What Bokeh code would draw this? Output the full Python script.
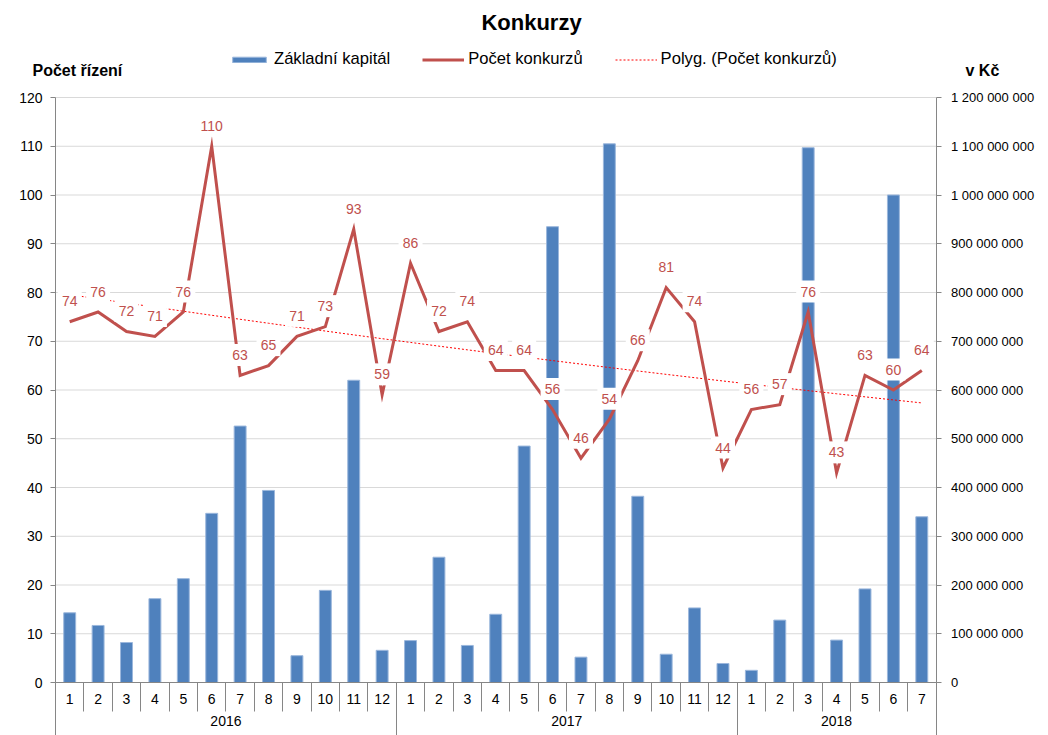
import numpy as np
from bokeh.plotting import figure
from bokeh.models import (Range1d, LinearAxis, FixedTicker,
                          ColumnDataSource, Label, Legend, LegendItem,
                          CustomJSTickFormatter)
from bokeh.core.properties import value
from bokeh.embed import file_html
from bokeh.resources import INLINE

# ---- data ----
years = ["2016"] * 12 + ["2017"] * 12 + ["2018"] * 7
months = [str(m) for m in range(1, 13)] * 2 + [str(m) for m in range(1, 8)]
pocet_konkurzu = [74, 76, 72, 71, 76, 110, 63, 65, 71, 73, 93, 59,
                  86, 72, 74, 64, 64, 56, 46, 54, 66, 81, 74, 44,
                  56, 57, 76, 43, 63, 60, 64]
zakladni_kapital = [143e6, 117e6, 82e6, 172e6, 213e6, 347e6, 526e6, 394e6, 55e6, 189e6, 620e6, 66e6,
                    86e6, 257e6, 76e6, 140e6, 485e6, 935e6, 52e6, 1105e6, 382e6, 58e6, 153e6, 39e6,
                    25e6, 128e6, 1097e6, 87e6, 192e6, 1000e6, 340e6]
left_ticks = list(range(0, 130, 10))
right_ticks = [v * 1e8 for v in range(0, 13)]

n = len(pocet_konkurzu)
centers = [i + 0.5 for i in range(n)]
bounds_m = list(range(n + 1))
year_names = sorted(set(years))
year_start = [years.index(y) for y in year_names]
year_end = [n - years[::-1].index(y) for y in year_names]
year_centers = [(a + b) / 2 for a, b in zip(year_start, year_end)]
year_bounds = sorted(set(year_start + year_end))

# polynomial (order 2) trend of the counts
idx = np.arange(1, n + 1)
trend = np.polyval(np.polyfit(idx, pocet_konkurzu, 2), idx)

FONT = "Liberation Sans"
BLUE = "#4f81bd"
RED = "#c0504d"
AX = "#868686"

# ---- pixel layout (canvas = frame) ----
W, H = 1048, 735
PX0, PX1 = 55, 935.5      # plot area left/right
PY_TOP, PY_BOT = 97, 682  # y pixel for 120 and for 0
ux = (PX1 - PX0) / n
uy = (PY_BOT - PY_TOP) / 120.0
x_start = -PX0 / ux
x_end = n + (W - PX1) / ux
y_start = -(H - PY_BOT) / uy
y_end = 120 + PY_TOP / uy
LABEL_UP = 20.5 / uy  # data labels sit ~20 px above their point

lbl_txt = [str(v) for v in pocet_konkurzu]
src = ColumnDataSource(dict(x=centers, pocet=pocet_konkurzu, kap=zakladni_kapital,
                            trend=trend, lbl=lbl_txt,
                            ly=[v + LABEL_UP for v in pocet_konkurzu],
                            lw=[8 * len(t) + 8 for t in lbl_txt]))

p = figure(width=W, height=H, x_range=Range1d(x_start, x_end), y_range=Range1d(y_start, y_end),
           output_backend="svg", toolbar_location=None,
           min_border=0, min_border_left=0, min_border_right=0, min_border_top=0, min_border_bottom=0,
           x_axis_type=None, y_axis_type=None)
p.outline_line_color = None
p.background_fill_color = "white"
p.xgrid.visible = False
p.ygrid.visible = False
p.extra_y_ranges = {"kc": Range1d(y_start * 1e7, y_end * 1e7)}

# gridlines
p.segment(x0=0, x1=n, y0=left_ticks[1:], y1=left_ticks[1:], line_color="#d9d9d9", line_width=1)


def style_axis(ax, size="14px"):
    ax.major_label_text_font = FONT
    ax.major_label_text_font_size = size
    ax.major_label_text_color = "#000000"
    ax.major_tick_in = 0
    ax.minor_tick_in = 0


# left axis
la = LinearAxis(fixed_location=0, bounds=(0, 120), ticker=FixedTicker(ticks=left_ticks))
style_axis(la)
la.axis_line_color = AX
la.major_tick_line_color = AX
la.major_tick_out = 5
la.minor_tick_line_color = None
la.major_label_standoff = 8
p.add_layout(la, "left")

# right axis
ra = LinearAxis(y_range_name="kc", fixed_location=n, bounds=(0, 1.2e9),
                ticker=FixedTicker(ticks=right_ticks),
                formatter=CustomJSTickFormatter(code=r"return Math.round(tick).toString().replace(/\B(?=(\d{3})+(?!\d))/g, ' ');"))
style_axis(ra, "13px")
ra.axis_line_color = AX
ra.major_tick_line_color = AX
ra.major_tick_out = 5
ra.minor_tick_line_color = None
ra.major_label_standoff = 10
p.add_layout(ra, "right")

# month separators (ticks only)
ms = LinearAxis(fixed_location=0, bounds=(0, n), ticker=FixedTicker(ticks=[], minor_ticks=bounds_m))
style_axis(ms)
ms.axis_line_color = AX
ms.major_tick_line_color = None
ms.major_tick_out = 0
ms.minor_tick_line_color = AX
ms.minor_tick_out = 29
p.add_layout(ms, "below")

# year separators (ticks only)
ys = LinearAxis(fixed_location=0, bounds=(0, n), ticker=FixedTicker(ticks=[], minor_ticks=year_bounds))
style_axis(ys)
ys.axis_line_color = None
ys.major_tick_line_color = None
ys.major_tick_out = 0
ys.minor_tick_line_color = AX
ys.minor_tick_out = 53
p.add_layout(ys, "below")

# month labels
ma = LinearAxis(fixed_location=0, bounds=(0, n), ticker=FixedTicker(ticks=centers),
                formatter=CustomJSTickFormatter(args=dict(labels=months),
                                                code="return labels[Math.floor(tick)];"))
style_axis(ma)
ma.axis_line_color = None
ma.major_tick_line_color = None
ma.minor_tick_line_color = None
ma.major_tick_out = 0
ma.minor_tick_out = 0
ma.major_label_standoff = 11
p.add_layout(ma, "below")

# year labels
ya = LinearAxis(fixed_location=0, bounds=(0, n), ticker=FixedTicker(ticks=year_centers),
                formatter=CustomJSTickFormatter(args=dict(labels=year_names, pos=year_centers),
                                                code="return labels[pos.indexOf(tick)];"))
style_axis(ya)
ya.axis_line_color = None
ya.major_tick_line_color = None
ya.minor_tick_line_color = None
ya.major_tick_out = 0
ya.minor_tick_out = 0
ya.major_label_standoff = 33
p.add_layout(ya, "below")

# bars
bars = p.vbar(x="x", top="kap", width=0.42, source=src, y_range_name="kc",
              fill_color=BLUE, line_color="#9bb7dc", line_width=1)
# trend
tr = p.line(x="x", y="trend", source=src, line_color="#ff0000", line_width=1, line_dash="2 2")
# counts
ln = p.line(x="x", y="pocet", source=src, line_color=RED, line_width=3, line_join="miter")

# data labels: white boxes + red text
p.rect(x="x", y="ly", width="lw", height=22, width_units="screen", height_units="screen",
       source=src, fill_color="white", line_color=None)
p.text(x="x", y="ly", text="lbl", source=src, text_align="center", text_baseline="middle",
       text_font=value(FONT), text_font_size="14px", text_color=RED)

legend = Legend(items=[LegendItem(label="Základní kapitál", renderers=[bars]),
                       LegendItem(label="Počet konkurzů", renderers=[ln]),
                       LegendItem(label="Polyg. (Počet konkurzů)", renderers=[tr])],
                orientation="horizontal", location=(228, H - 69),
                label_text_font=FONT, label_text_font_size="16.6px", label_text_color="#000000",
                label_height=16, glyph_width=42, glyph_height=7, label_standoff=4, spacing=32,
                padding=0, margin=0, border_line_color=None, background_fill_alpha=0)
p.add_layout(legend)

p.add_layout(Label(x=531, y=H - 22, x_units="screen", y_units="screen",
                   text="Konkurzy", text_font=FONT, text_font_size="22px", text_font_style="bold",
                   text_align="center", text_baseline="middle", text_color="#000000"))
p.add_layout(Label(x=32, y=H - 70, x_units="screen", y_units="screen", text="Počet řízení",
                   text_font=FONT, text_font_size="16px", text_font_style="bold",
                   text_align="left", text_baseline="middle", text_color="#000000"))
p.add_layout(Label(x=965, y=H - 70, x_units="screen", y_units="screen", text="v Kč",
                   text_font=FONT, text_font_size="16px", text_font_style="bold",
                   text_align="left", text_baseline="middle", text_color="#000000"))

open("out.html", "w").write(file_html(p, INLINE))
